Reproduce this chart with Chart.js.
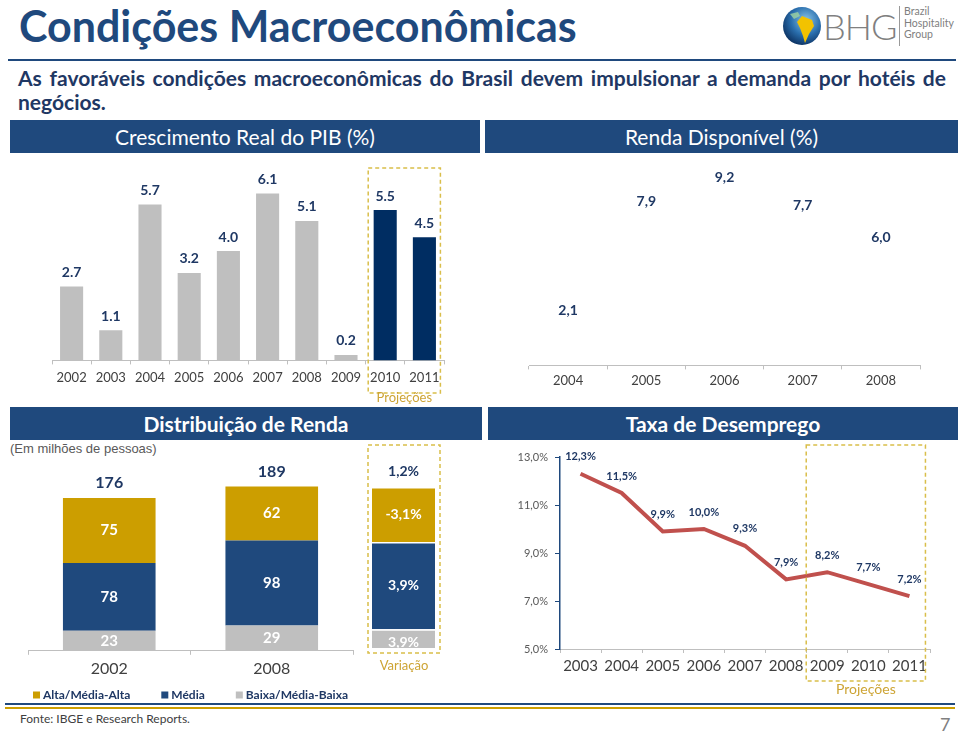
<!DOCTYPE html>
<html lang="pt">
<head>
<meta charset="UTF-8">
<title>Condições Macroeconômicas</title>
<script src="https://cdn.jsdelivr.net/npm/chart.js"></script>
<style>
  body { margin: 0; width: 960px; height: 732px; position: relative; background: #fff; font-family: Lato, sans-serif; overflow: hidden; }
  canvas { position: absolute; }
  .abs { position: absolute; }
  h1 { position: absolute; left: 19px; top: 0; margin: 0; font-size: 43px; line-height: 52px; color: #1F497D; font-weight: bold; }
  .sub { position: absolute; left: 18px; top: 66px; width: 928px; font-size: 21px; line-height: 24px; font-weight: bold; color: #1F3864; text-align: justify; }
  .hdr { position: absolute; height: 33px; background: #1F497D; color: #fff; font-size: 21px; text-align: center; line-height: 33px; }
  .rule { position: absolute; left: 8px; width: 948px; }
</style>
</head>
<body>
<h1>Condições Macroeconômicas</h1>
<div class="abs" style="left:782px;top:5px;width:175px;height:42px;">
  <svg width="40" height="40" viewBox="0 0 40 40" style="position:absolute;left:0;top:1px">
    <defs>
      <radialGradient id="g" cx="0.6" cy="0.35" r="0.7">
        <stop offset="0" stop-color="#8cc6e8"/>
        <stop offset="0.55" stop-color="#2a6fae"/>
        <stop offset="1" stop-color="#0b2f5e"/>
      </radialGradient>
    </defs>
    <circle cx="20" cy="20" r="19" fill="url(#g)"/>
    <path d="M20 10 L30 14 L32 20 L27 28 L23 37 L21 30 L18 22 L15 16 Z" fill="#f2c200"/>
    <path d="M8 8 L16 6 L18 10 L12 13 Z" fill="#9fd3a0" opacity="0.8"/>
  </svg>
  <div class="abs" style="left:41px;top:-1px;font-size:36px;font-weight:300;color:#808080;letter-spacing:-1px;">BHG</div>
  <div class="abs" style="left:117px;top:1px;width:1px;height:40px;background:#999;"></div>
  <div class="abs" style="left:122px;top:1px;font-size:10.5px;line-height:11.5px;color:#808080;">Brazil<br>Hospitality<br>Group</div>
</div>
<div class="rule" style="top:59px;height:2px;background:#1F497D;"></div>
<div class="sub">As favoráveis condições macroeconômicas do Brasil devem impulsionar a demanda por hotéis de negócios.</div>

<div class="hdr" style="left:10px;top:120px;width:470px;">Crescimento Real do PIB (%)</div>
<div class="hdr" style="left:485px;top:120px;width:473px;">Renda Disponível (%)</div>
<div class="hdr" style="left:10px;top:407px;width:472px;font-weight:bold;">Distribuição de Renda</div>
<div class="hdr" style="left:488px;top:407px;width:470px;font-weight:bold;">Taxa de Desemprego</div>

<div class="abs" style="left:10px;top:441px;font-family:'Liberation Sans',Arial,sans-serif;font-size:13px;color:#595959;">(Em milhões de pessoas)</div>

<div class="rule" style="top:703px;left:5px;width:950px;height:2px;background:#1F497D;"></div>
<div class="rule" style="top:707px;left:5px;width:950px;height:2px;background:#CC9E00;"></div>
<div class="abs" style="left:20px;top:711px;font-size:12px;color:#404040;">Fonte: IBGE e Research Reports.</div>
<div class="abs" style="left:940px;top:713px;font-size:18px;color:#808080;">7</div>

<canvas id="pib" width="420" height="250" style="left:40px;top:160px"></canvas>
<canvas id="renda" width="450" height="250" style="left:500px;top:160px"></canvas>
<canvas id="dist" width="360" height="265" style="left:10px;top:450px"></canvas>
<canvas id="vari" width="90" height="240" style="left:362px;top:440px"></canvas>
<canvas id="desemp" width="465" height="260" style="left:490px;top:440px"></canvas>

<script>
// ---- data ----
const pibYears = ['2002', '2003', '2004', '2005', '2006', '2007', '2008', '2009', '2010', '2011'];
const pibValues = [2.7, 1.1, 5.7, 3.2, 4.0, 6.1, 5.1, 0.2, 5.5, 4.5];
const pibFirstProjection = '2010';

const rendaYears = ['2004', '2005', '2006', '2007', '2008'];
const rendaValues = [2.1, 7.9, 9.2, 7.7, 6.0];

const distYears = ['2002', '2008'];
const altaValues = [75, 62];
const mediaValues = [78, 98];
const baixaValues = [23, 29];

const altaVar = -3.1;
const mediaVar = 3.9;
const baixaVar = 3.9;
const totalVar = 1.2;

const desempYears = ['2003', '2004', '2005', '2006', '2007', '2008', '2009', '2010', '2011'];
const desempValues = [12.3, 11.5, 9.9, 10.0, 9.3, 7.9, 8.2, 7.7, 7.2];
const desempFirstProjection = '2009';

// ---- colours ----
const GOLD = '#CC9E00';
const BLUE = '#1F497D';
const NAVY = '#002D62';
const GRAY = '#BFBFBF';
const LABEL = '#1F3864';
const PROJ = '#CDA434';

const br = (v, d) => v.toFixed(d).replace('.', ',');

Chart.defaults.font.family = 'Lato, sans-serif';
Chart.defaults.animation = false;
Chart.defaults.responsive = false;
Chart.defaults.plugins.legend.display = false;
Chart.defaults.plugins.tooltip.enabled = false;

// value labels drawn on top of / inside the marks
const valueLabels = {
  id: 'valueLabels',
  afterDatasetsDraw(chart) {
    const ctx = chart.ctx;
    chart.data.datasets.forEach((ds, i) => {
      if (!ds.valueText) return;
      const meta = chart.getDatasetMeta(i);
      ctx.save();
      ctx.font = ds.valueFont || 'bold 14px Lato';
      ctx.fillStyle = ds.valueColor || LABEL;
      ctx.textAlign = 'center';
      ctx.textBaseline = 'middle';
      meta.data.forEach((el, j) => {
        const t = ds.valueText[j];
        if (t == null) return;
        const y = ds.valuePos === 'center' ? (el.y + el.base) / 2 : el.y - (ds.valueOffset || 14);
        ctx.fillText(t, el.x, y);
      });
      ctx.restore();
    });
  }
};

// text above the top of each stack
const stackTotals = {
  id: 'stackTotals',
  afterDatasetsDraw(chart, args, o) {
    if (!o.text) return;
    const ctx = chart.ctx;
    const top = chart.getDatasetMeta(chart.data.datasets.length - 1);
    ctx.save();
    ctx.font = o.font;
    ctx.fillStyle = LABEL;
    ctx.textAlign = 'center';
    ctx.textBaseline = 'middle';
    top.data.forEach((el, j) => ctx.fillText(o.text[j], el.x, el.y - o.offset));
    ctx.restore();
  }
};

// dashed "projeções" frame around some categories
const projBox = {
  id: 'projBox',
  afterDraw(chart, args, o) {
    if (o.from === undefined) return;
    const x = chart.scales.x;
    const l = x.getPixelForValue(o.from) - o.padL;
    const r = x.getPixelForValue(o.to) + o.padR;
    const ctx = chart.ctx;
    ctx.save();
    ctx.strokeStyle = '#D9BE4A';
    ctx.lineWidth = 1.5;
    ctx.setLineDash([4, 3]);
    ctx.strokeRect(l, o.top, r - l, o.bottom - o.top);
    ctx.setLineDash([]);
    if (o.text) {
      ctx.fillStyle = PROJ;
      ctx.font = (o.size || 13) + 'px Lato';
      ctx.textAlign = 'center';
      ctx.textBaseline = 'middle';
      ctx.fillText(o.text, (l + r) / 2, o.textY);
    }
    ctx.restore();
  }
};

// small square legend, items from the datasets (top of stack first)
const boxLegend = {
  id: 'boxLegend',
  afterDraw(chart, args, o) {
    if (!o.y) return;
    const ctx = chart.ctx;
    const items = chart.data.datasets.slice().reverse();
    ctx.save();
    ctx.font = 'bold 12px Lato';
    const w = items.map(d => 7 + 3 + ctx.measureText(d.label).width);
    const total = w.reduce((a, b) => a + b, 0) + o.gap * (items.length - 1);
    let x = (chart.chartArea.left + chart.chartArea.right) / 2 - total / 2;
    ctx.textBaseline = 'middle';
    items.forEach((d, i) => {
      ctx.fillStyle = d.backgroundColor;
      ctx.fillRect(x, o.y - 3.5, 7, 7);
      ctx.fillStyle = LABEL;
      ctx.fillText(d.label, x + 10, o.y);
      x += w[i] + o.gap;
    });
    ctx.restore();
  }
};

Chart.register(valueLabels, stackTotals, projBox, boxLegend);

const catAxis = (size, color, pad) => ({
  grid: { drawOnChartArea: false, drawTicks: true, tickLength: 4, color: '#BFBFBF', offset: true },
  border: { color: '#BFBFBF' },
  ticks: { color: color, font: { size: size }, padding: pad, minRotation: 0, maxRotation: 0, autoSkip: false }
});

// ---- PIB ----
const projFrom = pibYears.indexOf(pibFirstProjection);
new Chart(document.getElementById('pib'), {
  type: 'bar',
  data: {
    labels: pibYears,
    datasets: [{
      data: pibValues,
      backgroundColor: pibYears.map((y, i) => i >= projFrom ? NAVY : GRAY),
      barPercentage: 0.62, categoryPercentage: 0.95,
      valueText: pibValues.map(v => v.toFixed(1)),
      valueOffset: 14
    }]
  },
  options: {
    layout: { padding: { left: 12, right: 16, top: 9, bottom: 18 } },
    scales: {
      x: catAxis(13, '#404040', 6),
      y: { display: false, min: 0, max: 7 }
    },
    plugins: {
      projBox: { from: projFrom, to: pibYears.length - 1, padL: 17, padR: 16, top: 8, bottom: 233, text: 'Projeções', textY: 238 }
    }
  }
});

// ---- Renda disponível (bars left unfilled, only values shown) ----
new Chart(document.getElementById('renda'), {
  type: 'bar',
  data: {
    labels: rendaYears,
    datasets: [{
      data: rendaValues,
      backgroundColor: 'rgba(255,255,255,0)',
      valueText: rendaValues.map(v => br(v, 1)),
      valueOffset: 15
    }]
  },
  options: {
    layout: { padding: { left: 29, right: 30, top: 10, bottom: 17 } },
    scales: {
      x: catAxis(13, '#404040', 4),
      y: { display: false, min: 0, max: 10.4 }
    }
  }
});

// ---- Distribuição de renda ----
new Chart(document.getElementById('dist'), {
  type: 'bar',
  data: {
    labels: distYears,
    datasets: [
      { label: 'Baixa/Média-Baixa', data: baixaValues, backgroundColor: GRAY, valueText: baixaValues.map(String), valuePos: 'center', valueColor: '#fff', valueFont: 'bold 15px Lato' },
      { label: 'Média', data: mediaValues, backgroundColor: BLUE, valueText: mediaValues.map(String), valuePos: 'center', valueColor: '#fff', valueFont: 'bold 15px Lato' },
      { label: 'Alta/Média-Alta', data: altaValues, backgroundColor: GOLD, valueText: altaValues.map(String), valuePos: 'center', valueColor: '#fff', valueFont: 'bold 15px Lato' }
    ]
  },
  options: {
    datasets: { bar: { barPercentage: 0.6, categoryPercentage: 0.95 } },
    layout: { padding: { left: 18, right: 17, top: 14, bottom: 33 } },
    scales: {
      x: Object.assign(catAxis(16, '#404040', 4), { stacked: true }),
      y: { display: false, stacked: true, min: 0, max: 215 }
    },
    plugins: {
      stackTotals: { text: distYears.map((y, i) => String(altaValues[i] + mediaValues[i] + baixaValues[i])), offset: 15, font: 'bold 16px Lato' },
      boxLegend: { y: 245, gap: 31 }
    }
  }
});

// ---- Variação 2002-2008 (column drawn with the 2008 stack) ----
const last = distYears.length - 1;
new Chart(document.getElementById('vari'), {
  type: 'bar',
  data: {
    labels: ['Variação'],
    datasets: [
      { data: [baixaValues[last]], backgroundColor: GRAY, valueText: [br(baixaVar, 1) + '%'], valuePos: 'center', valueColor: '#fff', valueFont: 'bold 14px Lato' },
      { data: [mediaValues[last]], backgroundColor: BLUE, valueText: [br(mediaVar, 1) + '%'], valuePos: 'center', valueColor: '#fff', valueFont: 'bold 14px Lato' },
      { data: [altaValues[last]], backgroundColor: GOLD, valueText: [br(altaVar, 1) + '%'], valuePos: 'center', valueColor: '#fff', valueFont: 'bold 14px Lato' }
    ]
  },
  options: {
    datasets: { bar: { barPercentage: 0.84, categoryPercentage: 1, borderColor: '#fff', borderWidth: { top: 1.5 } } },
    layout: { padding: { left: 4, right: 11, top: 22, bottom: 32 } },
    scales: {
      x: { display: false, stacked: true },
      y: { display: false, stacked: true, min: 8, max: 217 }
    },
    plugins: {
      stackTotals: { text: [br(totalVar, 1) + '%'], offset: 15, font: 'bold 14px Lato' },
      projBox: { from: 0, to: 0, padL: 35.5, padR: 36.5, top: 5, bottom: 213, text: 'Variação', textY: 226, size: 13 }
    }
  }
});

// ---- Taxa de desemprego ----
const dFrom = desempYears.indexOf(desempFirstProjection);
new Chart(document.getElementById('desemp'), {
  type: 'line',
  data: {
    labels: desempYears,
    datasets: [{
      data: desempValues,
      borderColor: '#C0504D',
      borderWidth: 4,
      pointRadius: 0,
      tension: 0,
      valueText: desempValues.map(v => br(v, 1) + '%'),
      valueFont: 'bold 11px Lato',
      valueOffset: 17
    }]
  },
  options: {
    layout: { padding: { left: 0, right: 25, top: 17, bottom: 21 } },
    scales: {
      x: Object.assign(catAxis(15, '#404040', 4), { offset: true }),
      y: {
        min: 5, max: 13,
        afterFit(s) { s.width = 70; },
        grid: { drawOnChartArea: false, tickLength: 5, color: BLUE },
        border: { color: BLUE, width: 1.5 },
        ticks: { stepSize: 2, color: '#595959', font: { size: 11 }, padding: 7, callback: v => br(v, 1) + '%' }
      }
    },
    plugins: {
      projBox: { from: dFrom, to: desempYears.length - 1, padL: 21, padR: 16, top: 5, bottom: 241, text: 'Projeções', textY: 249, size: 14 }
    }
  }
});
</script>
</body>
</html>
